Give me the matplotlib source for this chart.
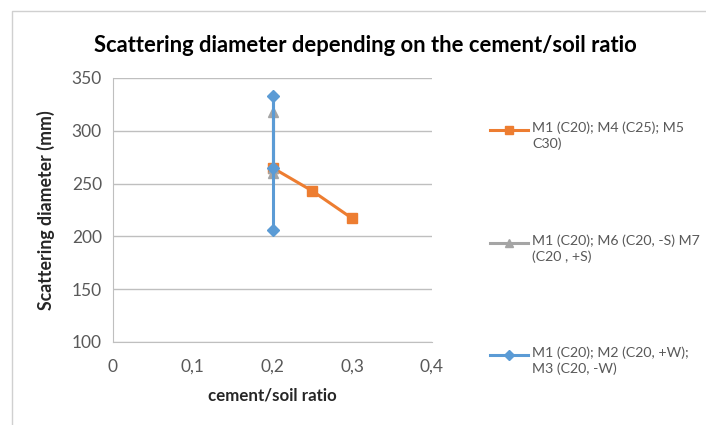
import matplotlib
matplotlib.use("Agg")
import matplotlib.pyplot as plt
from matplotlib.lines import Line2D

plt.rcParams['font.family'] = ['Lato', 'DejaVu Sans']

# Series: cement/soil ratio vs scattering diameter (mm)
labels = [
    "M1 (C20); M4 (C25); M5\nC30)",
    "M1 (C20); M6 (C20, -S) M7\n(C20 , +S)",
    "M1 (C20); M2 (C20, +W);\nM3 (C20, -W)",
]
x_cement = [0.2, 0.25, 0.3]
y_cement = [265, 243, 217]
x_sand = [0.2, 0.2, 0.2]
y_sand = [265, 260, 318]
x_water = [0.2, 0.2, 0.2]
y_water = [265, 333, 206]

xticks = [0, 0.1, 0.2, 0.3, 0.4]
xtick_labels = ["0", "0,1", "0,2", "0,3", "0,4"]
yticks = [100, 150, 200, 250, 300, 350]

orange = "#ED7D31"
gray = "#A5A5A5"
blue = "#5B9BD5"
text_col = "#595959"

fig = plt.figure(figsize=(7.06, 4.25), dpi=100)
ax = fig.add_axes([113/706, 1 - 342/425, 319/706, 264/425])

series = [
    (x_cement, y_cement, orange, "s", 7),
    (x_sand, y_sand, gray, "^", 7),
    (x_water, y_water, blue, "D", 6),
]
for xs, ys, c, m, ms in series:
    ax.plot(xs, ys, color=c, lw=2.2, marker=m, markersize=ms,
            markerfacecolor=c, markeredgecolor=c, zorder=3)

ax.set_xlim(0, 0.4)
ax.set_ylim(100, 350)
ax.set_xticks(xticks)
ax.set_xticklabels(xtick_labels)
ax.set_yticks(yticks)
ax.yaxis.grid(True, color="#BFBFBF", lw=1)
ax.set_axisbelow(True)
for s in ["top", "right"]:
    ax.spines[s].set_visible(False)
for s in ["left", "bottom"]:
    ax.spines[s].set_color("#BFBFBF")
ax.tick_params(length=0, labelsize=12.5, colors=text_col, pad=8)
ax.tick_params(axis="x", pad=12)

ax.set_xlabel("cement/soil ratio", fontsize=12.2, fontweight="bold",
              color="#262626", labelpad=9)
ax.set_ylabel("Scattering diameter (mm)", fontsize=12.8, fontweight="bold",
              color="#262626", labelpad=12)

fig.text(365/706, 1 - 45/425, "Scattering diameter depending on the cement/soil ratio",
         ha="center", va="center", fontsize=15.8, fontweight="bold", color="#000000")

# legend keys
rows = [130, 243, 355]
for (xs, ys, c, m, ms), lab, yr in zip(series, labels, rows):
    yf = 1 - yr / 425
    fig.add_artist(Line2D([490/706, 528/706], [yf, yf], color=c, lw=2.2,
                          transform=fig.transFigure))
    fig.add_artist(Line2D([509/706], [yf], color=c, marker=m, markersize=ms - 1,
                          markerfacecolor=c, markeredgecolor=c,
                          transform=fig.transFigure))
    fig.text(532/706, 1 - (yr - 9) / 425, lab, ha="left", va="top",
             fontsize=10.2, color=text_col, linespacing=1.35)

# chart frame
fig.add_artist(Line2D([12/706, 12/706, 1], [0, 1 - 11/425, 1 - 11/425],
                      color="#D0D0D0", lw=1, transform=fig.transFigure))

fig.savefig("out.png", dpi=100)
